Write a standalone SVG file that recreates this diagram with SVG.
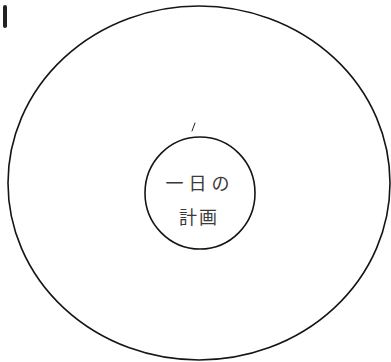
<svg xmlns="http://www.w3.org/2000/svg" width="391" height="362" viewBox="0 0 391 362">
  <style>
    .ring { fill: none; stroke: #151515; stroke-width: 1.6; }
    .label { font-family: "Noto Sans CJK JP", "Noto Sans CJK SC", sans-serif; font-size: 18px; fill: #3a3a3a; text-anchor: middle; letter-spacing: 5px; }
    .tight { letter-spacing: 2px; }
    .mark { stroke: #222; fill: none; stroke-linecap: round; }
  </style>
  <rect x="0" y="0" width="391" height="362" fill="#ffffff"/>
  <g id="scan-marks">
    <path class="mark" d="M5 7 L5 26" stroke-width="4"/>
  </g>
  <g id="outer-circle">
    <ellipse class="ring" cx="199" cy="183" rx="191" ry="177"/>
  </g>
  <g id="connectors">
    <path class="mark" d="M192 131 L195 123" stroke-width="1"/>
  </g>
  <g id="node-plan">
    <ellipse class="ring" cx="200" cy="193" rx="55" ry="56"/>
    <text class="label" x="200" y="190">一日の</text>
    <text class="label tight" x="199" y="224">計画</text>
  </g>
</svg>
